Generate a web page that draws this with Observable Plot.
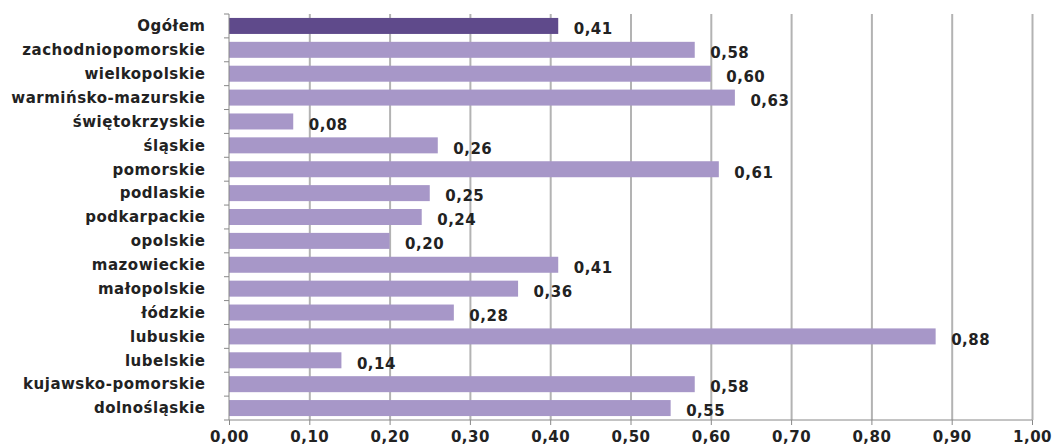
<!DOCTYPE html>
<html>
<head>
<meta charset="utf-8">
<script src="https://cdn.jsdelivr.net/npm/d3@7"></script>
<script src="https://cdn.jsdelivr.net/npm/@observablehq/plot@0.6"></script>
<style>
  html, body { margin: 0; padding: 0; background: #fff; }
  #chart svg { display: block; }
  #chart svg text { letter-spacing: 0.5px; }
</style>
</head>
<body>
<div id="chart"></div>
<script>
// Regions, top to bottom, and their values
const regions = [
  "Ogółem",
  "zachodniopomorskie",
  "wielkopolskie",
  "warmińsko-mazurskie",
  "świętokrzyskie",
  "śląskie",
  "pomorskie",
  "podlaskie",
  "podkarpackie",
  "opolskie",
  "mazowieckie",
  "małopolskie",
  "łódzkie",
  "lubuskie",
  "lubelskie",
  "kujawsko-pomorskie",
  "dolnośląskie"
];
const values = [0.41, 0.58, 0.60, 0.63, 0.08, 0.26, 0.61, 0.25, 0.24, 0.20, 0.41, 0.36, 0.28, 0.88, 0.14, 0.58, 0.55];
const xTicks = [0, 0.1, 0.2, 0.3, 0.4, 0.5, 0.6, 0.7, 0.8, 0.9, 1.0];

const rows = regions.map((name, i) => ({name, value: values[i], total: i === 0}));
const fmt = v => d3.format(".2f")(v).replace(".", ",");
const font = "'DejaVu Sans', sans-serif";
const W = 1053, H = 447;
const M = {top: 14, right: 21, bottom: 27, left: 229};

// Small tick marks on the left axis between category bands, plus the frame lines
const frameTicks = (index, scales) => {
  const g = d3.create("svg:g").attr("stroke", "#888").attr("stroke-width", 1);
  const x0 = scales.x(0), x1 = scales.x(1);
  const gap = (scales.y.step() - scales.y.bandwidth()) / 2;
  const ys = regions.map(r => scales.y(r) - gap);
  ys.push(scales.y(regions[regions.length - 1]) + scales.y.bandwidth() + gap);
  for (const y of ys) {
    g.append("line").attr("x1", x0 - 5).attr("x2", x0).attr("y1", y).attr("y2", y);
  }
  const yb = ys[ys.length - 1];
  g.append("line").attr("x1", x0).attr("x2", x1).attr("y1", yb).attr("y2", yb);
  g.append("line").attr("x1", x0).attr("x2", x0).attr("y1", ys[0]).attr("y2", yb);
  return g.node();
};

const chart = Plot.plot({
  width: W,
  height: H,
  marginTop: M.top,
  marginBottom: M.bottom,
  marginLeft: M.left,
  marginRight: M.right,
  style: {fontFamily: font, background: "#fff"},
  x: {domain: [0, 1]},
  y: {domain: regions, paddingInner: 0.33, paddingOuter: 0.165, round: false},
  marks: [
    Plot.gridX(xTicks.slice(1), {stroke: "#b3b3b3", strokeWidth: 2, strokeOpacity: 1}),
    Plot.barX(rows, {
      x: "value",
      y: "name",
      fill: d => d.total ? "#5f4a8b" : "#a797c8"
    }),
    Plot.text(rows, {
      x: "value",
      y: "name",
      text: d => fmt(d.value),
      textAnchor: "start",
      dx: 15,
      dy: 3,
      fontSize: 15,
      fontWeight: "bold",
      fill: "#222"
    }),
    Plot.axisX(xTicks, {
      tickFormat: fmt,
      tickSize: 5,
      tickPadding: 6,
      fontSize: 15,
      fontWeight: "bold",
      fill: "#222",
      stroke: "#888",
      label: null
    }),
    Plot.axisY({
      tickSize: 0,
      tickPadding: 24,
      fontSize: 15,
      fontWeight: "bold",
      fill: "#222",
      label: null
    }),
    frameTicks
  ]
});

document.getElementById("chart").appendChild(chart);
</script>
</body>
</html>
